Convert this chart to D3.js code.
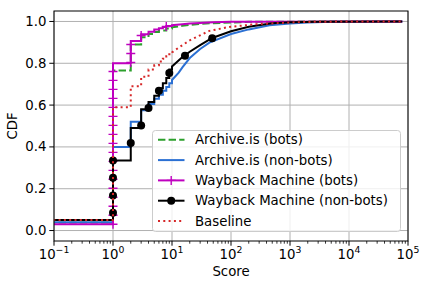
<!DOCTYPE html>
<html>
<head>
<meta charset="utf-8">
<script src="https://cdn.jsdelivr.net/npm/d3@7"></script>
<style>
	body { margin: 0; background: #fff; }
	svg { font-family: "DejaVu Sans", sans-serif; }
</style>
</head>
<body>
<svg id="chart" width="428" height="287"></svg>
<script>
// series labels, legend order
var seriesNames = ["Archive.is (bots)", "Archive.is (non-bots)", "Wayback Machine (bots)", "Wayback Machine (non-bots)", "Baseline"];

// score / cdf knots (score 0 drawn at 0.01)
var archiveBotsScore = [0.01, 1, 2, 3, 4, 5, 6, 8, 10, 15, 20, 30, 50, 100, 200, 500, 80000];
var archiveBotsCdf = [0.038, 0.765, 0.89, 0.925, 0.94, 0.95, 0.957, 0.966, 0.972, 0.979, 0.984, 0.988, 0.992, 0.995, 0.998, 0.999, 1.0];

var archiveHumanScore = [0.01, 1, 2, 3, 4, 5, 6, 7, 8, 9, 10, 13, 15, 20, 30, 43, 100, 200, 450, 1000, 2000, 5000, 80000];
var archiveHumanCdf = [0.04, 0.40, 0.52, 0.575, 0.605, 0.63, 0.65, 0.668, 0.687, 0.705, 0.72, 0.755, 0.78, 0.825, 0.868, 0.899, 0.94, 0.962, 0.982, 0.99, 0.995, 0.998, 1.0];

var waybackBotsScore = [0.01, 1, 2, 3, 4, 5, 6, 7, 8, 10, 15, 20, 30, 50, 100, 300, 80000];
var waybackBotsCdf = [0.03, 0.80, 0.907, 0.939, 0.951, 0.962, 0.968, 0.973, 0.978, 0.982, 0.987, 0.99, 0.993, 0.996, 0.998, 0.999, 1.0];

var waybackHumanScore = [0.01, 1, 2, 3, 4, 5, 6, 7, 8, 9, 10, 12, 15, 17, 20, 30, 48, 100, 200, 500, 1000, 3000, 80000];
var waybackHumanCdf = [0.05, 0.335, 0.49, 0.58, 0.615, 0.645, 0.68, 0.705, 0.73, 0.77, 0.785, 0.805, 0.83, 0.84, 0.855, 0.887, 0.921, 0.953, 0.975, 0.991, 0.996, 0.999, 1.0];

var baselineScore = [0.01, 1, 2, 3, 4, 5, 6, 7, 8, 9, 10, 13, 20, 43, 94, 270, 1000, 3000, 80000];
var baselineCdf = [0.05, 0.59, 0.69, 0.735, 0.77, 0.79, 0.808, 0.822, 0.833, 0.843, 0.852, 0.875, 0.91, 0.955, 0.974, 0.987, 0.995, 0.999, 1.0];

// marker positions
var waybackBotsMarkScore = [1, 1, 1, 1, 1, 1, 1, 1, 1, 1, 1, 1, 1, 1, 1, 1, 1, 1, 2, 2, 2, 3, 8];
var waybackBotsMarkCdf = [0.03, 0.073, 0.116, 0.159, 0.202, 0.245, 0.288, 0.331, 0.374, 0.417, 0.46, 0.503, 0.546, 0.589, 0.632, 0.675, 0.718, 0.761, 0.804, 0.847, 0.89, 0.933, 0.976];
var waybackHumanMarkScore = [1, 1, 1, 1, 2, 3, 4, 6, 9, 16.6, 48];
var waybackHumanMarkCdf = [0.085, 0.168, 0.252, 0.335, 0.419, 0.502, 0.586, 0.669, 0.753, 0.836, 0.92];

var xTicks = [-1, 0, 1, 2, 3, 4, 5];
var yTicks = [0, 0.2, 0.4, 0.6, 0.8, 1.0];

var margin = { left: 54, right: 408, top: 11, bottom: 241 };
var fontSize = 13.3;

var svg = d3.select("#chart");

var x = d3.scaleLog().domain([0.1, 1e5]).range([margin.left, margin.right]);
var y = d3.scaleLinear().domain([-0.05, 1.05]).range([margin.bottom, margin.top]);

function zip(a, b) {
	return a.map(function(v, i) { return [v, b[i]]; });
}

var series = [
	{ name: seriesNames[0], pts: zip(archiveBotsScore, archiveBotsCdf), color: "#2ca02c", dash: "7.4,3.2", marks: [], marker: null },
	{ name: seriesNames[1], pts: zip(archiveHumanScore, archiveHumanCdf), color: "#2b70d3", dash: null, marks: [], marker: null },
	{ name: seriesNames[2], pts: zip(waybackBotsScore, waybackBotsCdf), color: "#bf00bf", dash: null, marks: zip(waybackBotsMarkScore, waybackBotsMarkCdf), marker: "plus" },
	{ name: seriesNames[3], pts: zip(waybackHumanScore, waybackHumanCdf), color: "#000000", dash: null, marks: zip(waybackHumanMarkScore, waybackHumanMarkCdf), marker: "circle" },
	{ name: seriesNames[4], pts: zip(baselineScore, baselineCdf), color: "#d62728", dash: "2,3.3", marks: [], marker: null }
];

// steps for small integer scores, straight segments in the dense tail
function expand(pts) {
	var out = [];
	pts.forEach(function(p, i) {
		if (i > 0 && p[0] <= 10) {
			out.push([p[0], pts[i - 1][1]]);
		}
		out.push(p);
	});
	return out;
}

svg.append("defs").append("clipPath").attr("id", "plotClip")
	.append("rect")
	.attr("x", margin.left)
	.attr("y", margin.top)
	.attr("width", margin.right - margin.left)
	.attr("height", margin.bottom - margin.top);

// grid
var grid = svg.append("g").attr("class", "grid");
xTicks.forEach(function(e) {
	grid.append("line")
		.attr("x1", x(Math.pow(10, e))).attr("x2", x(Math.pow(10, e)))
		.attr("y1", margin.top).attr("y2", margin.bottom)
		.style("stroke", "#b0b0b0").style("stroke-width", 1);
});
yTicks.forEach(function(v) {
	grid.append("line")
		.attr("x1", margin.left).attr("x2", margin.right)
		.attr("y1", y(v)).attr("y2", y(v))
		.style("stroke", "#b0b0b0").style("stroke-width", 1);
});

var line = d3.line()
	.x(function(d) { return x(d[0]); })
	.y(function(d) { return y(d[1]); });

var plot = svg.append("g").attr("clip-path", "url(#plotClip)");

function drawMarker(g, kind, color, cx, cy) {
	if (kind === "plus") {
		g.append("path")
			.attr("d", "M" + (cx - 4.5) + "," + cy + "H" + (cx + 4.5) + "M" + cx + "," + (cy - 4.5) + "V" + (cy + 4.5))
			.style("stroke", color).style("stroke-width", 1.4).style("fill", "none");
	} else if (kind === "circle") {
		g.append("circle")
			.attr("cx", cx).attr("cy", cy).attr("r", 4)
			.style("fill", color);
	}
}

series.forEach(function(s) {
	plot.append("path")
		.datum(expand(s.pts))
		.attr("d", line)
		.style("fill", "none")
		.style("stroke", s.color)
		.style("stroke-width", 2)
		.style("stroke-dasharray", s.dash);
	s.marks.forEach(function(m) {
		drawMarker(plot, s.marker, s.color, x(m[0]), y(m[1]));
	});
});

// spines
svg.append("rect")
	.attr("x", margin.left).attr("y", margin.top)
	.attr("width", margin.right - margin.left)
	.attr("height", margin.bottom - margin.top)
	.style("fill", "none").style("stroke", "#000").style("stroke-width", 1);

// x ticks
var axisG = svg.append("g");
xTicks.forEach(function(e) {
	var px = x(Math.pow(10, e));
	axisG.append("line")
		.attr("x1", px).attr("x2", px)
		.attr("y1", margin.bottom).attr("y2", margin.bottom + 4.7)
		.style("stroke", "#000").style("stroke-width", 1);
	var t = axisG.append("text")
		.attr("x", px).attr("y", margin.bottom + 18)
		.attr("text-anchor", "middle")
		.style("font-size", fontSize + "px");
	t.append("tspan").text("10");
	t.append("tspan")
		.attr("dy", -6)
		.style("font-size", "9.3px")
		.text(e < 0 ? "\u2212" + (-e) : String(e));
	if (e < 5) {
		for (var k = 2; k <= 9; k++) {
			var mx = x(k * Math.pow(10, e));
			axisG.append("line")
				.attr("x1", mx).attr("x2", mx)
				.attr("y1", margin.bottom).attr("y2", margin.bottom + 2.7)
				.style("stroke", "#000").style("stroke-width", 0.8);
		}
	}
});

// y ticks
yTicks.forEach(function(v) {
	axisG.append("line")
		.attr("x1", margin.left - 4.7).attr("x2", margin.left)
		.attr("y1", y(v)).attr("y2", y(v))
		.style("stroke", "#000").style("stroke-width", 1);
	axisG.append("text")
		.attr("x", margin.left - 7.5).attr("y", y(v))
		.attr("text-anchor", "end")
		.attr("dominant-baseline", "central")
		.style("font-size", fontSize + "px")
		.text(v.toFixed(1));
});

// axis labels
svg.append("text")
	.attr("x", (margin.left + margin.right) / 2).attr("y", 276)
	.attr("text-anchor", "middle")
	.style("font-size", fontSize + "px")
	.text("Score");
svg.append("text")
	.attr("transform", "translate(17," + ((margin.top + margin.bottom) / 2) + ") rotate(-90)")
	.attr("text-anchor", "middle")
	.style("font-size", fontSize + "px")
	.text("CDF");

// legend
var legend = svg.append("g");
legend.append("rect")
	.attr("x", 152.5).attr("y", 130.5)
	.attr("width", 248).attr("height", 101)
	.attr("rx", 3)
	.style("fill", "#fff").style("fill-opacity", 0.8)
	.style("stroke", "#cccccc").style("stroke-width", 1);
series.forEach(function(s, i) {
	var ly = 139.8 + i * 20.3;
	legend.append("line")
		.attr("x1", 158).attr("x2", 184.5)
		.attr("y1", ly).attr("y2", ly)
		.style("stroke", s.color).style("stroke-width", 2)
		.style("stroke-dasharray", s.dash);
	drawMarker(legend, s.marker, s.color, 171.2, ly);
	legend.append("text")
		.attr("x", 195).attr("y", ly)
		.attr("dominant-baseline", "central")
		.style("font-size", fontSize + "px")
		.text(s.name);
});
</script>
</body>
</html>
